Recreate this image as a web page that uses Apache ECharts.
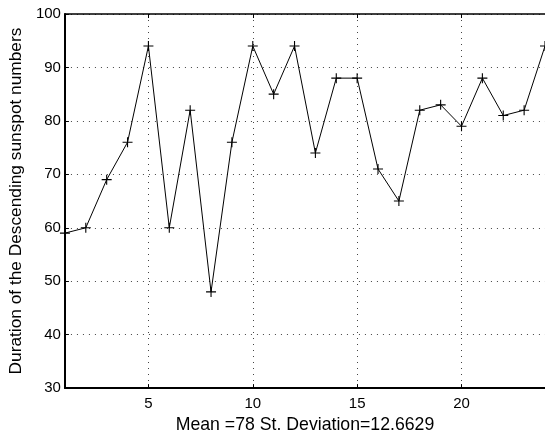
<!DOCTYPE html>
<html>
<head>
<meta charset="utf-8">
<script src="https://cdn.jsdelivr.net/npm/echarts@6/dist/echarts.min.js"></script>
<style>
html,body{margin:0;padding:0;background:#fff;}
#chart{width:545px;height:439px;}
</style>
</head>
<body>
<div id="chart"></div>
<script>
// Data
const cycleIndex = [1,2,3,4,5,6,7,8,9,10,11,12,13,14,15,16,17,18,19,20,21,22,23,24];
const durations  = [59,60,69,76,94,60,82,48,76,94,85,94,74,88,88,71,65,82,83,79,88,81,82,94];
const xTickValues = [5,10,15,20];
const yTickMin = 30, yTickMax = 100, yTickStep = 10;
const xTitle = 'Mean =78 St. Deviation=12.6629';
const yTitle = 'Duration of the Descending sunspot numbers';

const FONT = '"Liberation Sans", Arial, Helvetica, sans-serif';
const chart = echarts.init(document.getElementById('chart'), null, {renderer:'canvas'});

const seriesData = cycleIndex.map((x, i) => [x, durations[i]]);

const gridDot = {show:true, lineStyle:{color:'#444', width:1, type:[1,5]}};

chart.setOption({
  backgroundColor:'#fff',
  animation:false,
  grid:{left:63, right:-2, top:14, bottom:45, containLabel:false},
  xAxis:[{
    type:'value', min:1, max:24,
    position:'bottom',
    name:xTitle, nameLocation:'middle', nameGap:24,
    nameTextStyle:{fontFamily:FONT, fontSize:17.7, color:'#000'},
    axisLine:{show:true, onZero:false, lineStyle:{color:'#000', width:2}},
    axisTick:{show:true, inside:true, length:4, customValues:xTickValues, lineStyle:{color:'#000', width:1}},
    axisLabel:{show:true, customValues:xTickValues, fontFamily:FONT, fontSize:15, color:'#000', margin:8},
    splitLine:gridDot
  },{
    type:'value', min:1, max:24,
    position:'top',
    axisLine:{show:true, onZero:false, lineStyle:{color:'#000', width:1.5}},
    axisTick:{show:true, inside:true, length:4, customValues:xTickValues, lineStyle:{color:'#000', width:1}},
    axisLabel:{show:false},
    splitLine:{show:false}
  }],
  yAxis:[{
    type:'value', min:yTickMin, max:yTickMax, interval:yTickStep,
    name:yTitle, nameLocation:'middle', nameGap:34, nameRotate:90,
    nameTextStyle:{fontFamily:FONT, fontSize:17.3, color:'#000'},
    axisLine:{show:true, onZero:false, lineStyle:{color:'#000', width:2}},
    axisTick:{show:true, inside:true, length:4, lineStyle:{color:'#000', width:1}},
    axisLabel:{show:true, fontFamily:FONT, fontSize:15, color:'#000', margin:4,
      showMinLabel:true, showMaxLabel:true},
    splitLine:gridDot
  }],
  series:[{
    type:'line',
    xAxisIndex:0, yAxisIndex:0,
    data:seriesData,
    symbol:'path://M5,0L5,10M0,5L10,5',
    symbolSize:10,
    showSymbol:true,
    clip:false,
    lineStyle:{color:'#000', width:1},
    itemStyle:{color:'none', borderColor:'#000', borderWidth:1.1},
    emphasis:{disabled:true}
  }]
});
</script>
</body>
</html>
